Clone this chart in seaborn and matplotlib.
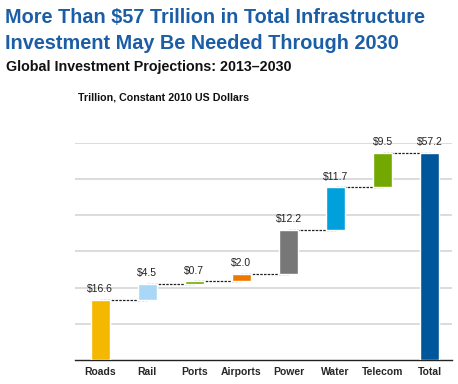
import numpy as np
import matplotlib
matplotlib.use("Agg")
import matplotlib.pyplot as plt
import seaborn as sns

# data (trillion, constant 2010 USD)
categories = ["Roads", "Rail", "Ports", "Airports", "Power", "Water", "Telecom", "Total"]
increments = [16.6, 4.5, 0.7, 2.0, 12.2, 11.7, 9.5]
total = 57.2
value_labels = ["$16.6", "$4.5", "$0.7", "$2.0", "$12.2", "$11.7", "$9.5", "$57.2"]
bar_colors = ["#F5B800", "#A8D8F5", "#72A800", "#EE7700", "#777777", "#00A0DC", "#72A800", "#00569A"]

heights = increments + [total]
bottoms = list(np.concatenate([[0], np.cumsum(increments)[:-1]])) + [0]
tops = [b + h for b, h in zip(bottoms, heights)]

sns.set_style("white")
plt.rcParams["font.family"] = ["Liberation Sans", "DejaVu Sans"]

fig = plt.figure(figsize=(4.58, 3.84), dpi=100)
ax = fig.add_axes([0.164, 0.0625, 0.823, 0.5655])

sns.barplot(x=categories, y=heights, hue=categories, palette=bar_colors,
            legend=False, width=0.4, saturation=1, ax=ax, zorder=3)

# turn the bars into a waterfall
for patch, b in zip(ax.patches, bottoms):
    patch.set_y(b)

# dashed connectors from bar to bar
for i in range(len(categories) - 1):
    ax.plot([i, i + 1], [tops[i], tops[i]], color="#222222", lw=0.9,
            ls=(0, (2, 1)), zorder=2)

for i, (t, lab) in enumerate(zip(tops, value_labels)):
    ax.annotate(lab, (i, t), xytext=(0, 4), textcoords="offset points",
                ha="center", va="bottom", fontsize=7.5, color="#222222")

ax.set_ylim(0, 60)
ax.set_xlim(-0.53, 7.47)
ax.set_yticks(np.arange(10, 61, 10))
ax.yaxis.grid(True, color="#D9D9D9", lw=1.3, zorder=0)
ax.set_axisbelow(True)
ax.tick_params(axis="y", length=0, labelleft=False)
ax.tick_params(axis="x", length=0, pad=5)
for lab in ax.get_xticklabels():
    lab.set_fontweight("bold")
    lab.set_fontsize(7.5)
for s in ["left", "right", "top"]:
    ax.spines[s].set_visible(False)
ax.spines["bottom"].set_color("#222222")
ax.spines["bottom"].set_linewidth(1.0)
ax.set_xlabel("")
ax.set_ylabel("")

fig.text(0.011, 0.955, "More Than $57 Trillion in Total Infrastructure",
         fontsize=14.3, fontweight="bold", color="#1B5EA6", va="center")
fig.text(0.011, 0.888, "Investment May Be Needed Through 2030",
         fontsize=14.3, fontweight="bold", color="#1B5EA6", va="center")
fig.text(0.013, 0.826, "Global Investment Projections: 2013\u20132030",
         fontsize=10.3, fontweight="bold", color="#111111", va="center")
fig.text(0.17, 0.745, "Trillion, Constant 2010 US Dollars",
         fontsize=7.7, fontweight="bold", color="#111111", va="center")

fig.savefig("out.png", dpi=100)
